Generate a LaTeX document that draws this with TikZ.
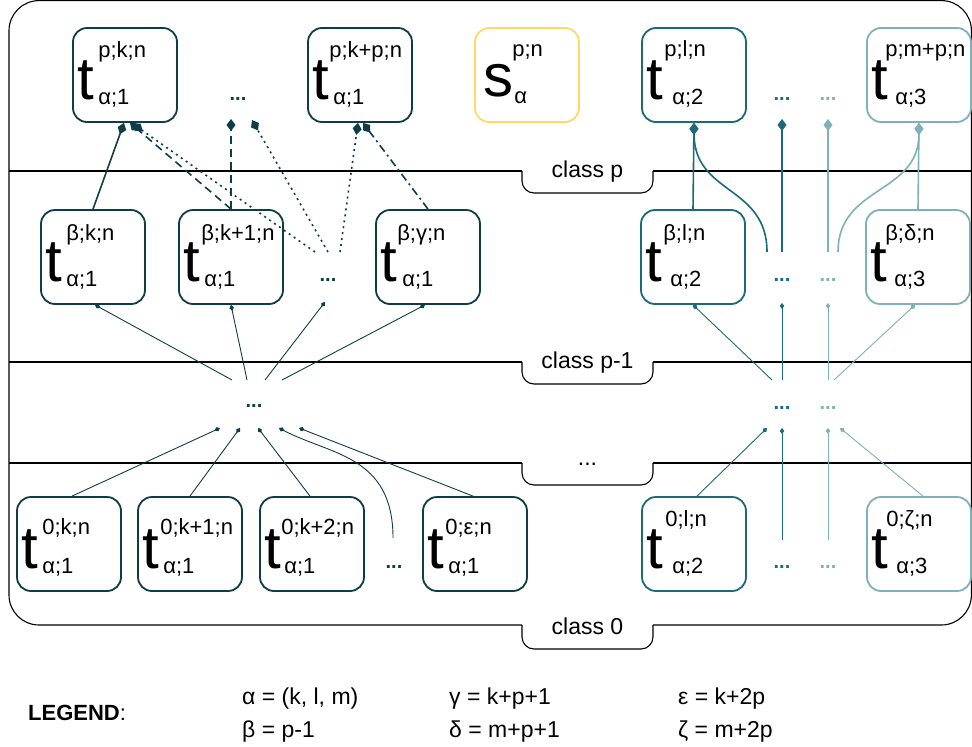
\documentclass[tikz,border=0pt]{standalone}
\usepackage{fontspec}
\setmainfont{Liberation Sans}
\usetikzlibrary{arrows.meta}
\definecolor{cdark}{HTML}{0F3D47}
\definecolor{cmid}{HTML}{1C6978}
\definecolor{clight}{HTML}{80B0BA}
\definecolor{cyel}{HTML}{FFD966}
\tikzset{
  tbox/.style={draw, line width=1.8pt, rounded corners=14pt, minimum width=104pt, minimum height=94pt, inner sep=0pt, fill=white},
  bigt/.style={font=\fontsize{60}{60}\selectfont, inner sep=0pt, anchor=base west},
  idx/.style={font=\fontsize{22}{22}\selectfont, inner sep=0pt, anchor=base west},
  bigconn/.style={line width=1.6pt, -{Diamond[length=12pt,width=9pt]}},
  smallconn/.style={line width=0.9pt, -{Diamond[length=6pt,width=4.5pt]}},
  ellip/.style={font=\bfseries\fontsize{20}{20}\selectfont, inner sep=0pt, anchor=base},
  classlbl/.style={font=\fontsize{23}{23}\selectfont, inner sep=0pt},
  sepline/.style={line width=1.1pt},
  dashline/.style={dash pattern=on 8pt off 5pt},
  dotline/.style={dash pattern=on 2pt off 4pt},
  dashdotline/.style={dash pattern=on 8pt off 4pt on 2pt off 4pt},
  legtext/.style={font=\fontsize{23}{23}\selectfont, inner sep=0pt, anchor=base west},
}
% name, x, y, colour, sup, sub, supdx, supdy, subdx
\newcommand{\tnode}[9]{%
  \node[tbox,draw=#4] (#1) at (#2,#3) {};
  \node[bigt] (#1-t) at ([xshift=5pt,yshift=-72pt]#1.north west) {t};
  \node[idx] (#1-sup) at ([xshift=#7pt,yshift=-#8pt]#1.north west) {#5};
  \node[idx] (#1-sub) at ([xshift=#9pt,yshift=-77pt]#1.north west) {#6};
}
% name, y, text, bracket depth
\newcommand{\clslabel}[4]{%
  \fill[white] (522,#2-12) rectangle (653,#2+#4-1);
  \draw[line width=1.1pt, rounded corners=12pt] (522,#2) -- (522,#2+#4) -- (653,#2+#4) -- (653,#2);
  \node[classlbl] (#1) at (587.5,#2+1) {#3};
}
\begin{document}
\begin{tikzpicture}[x=1pt,y=-1pt]
\useasboundingbox (0,0) rectangle (972,747);
% frame and class separators
\draw[line width=1.1pt, rounded corners=30pt] (9,0.6) rectangle (971.4,625);
\draw[sepline] (9,171) -- (971.4,171);
\draw[sepline] (9,362) -- (971.4,362);
\draw[sepline] (9,463) -- (971.4,463);
\clslabel{lp}{171}{class p}{22}
\clslabel{lpm}{362}{class p-1}{22}
\clslabel{ldots}{463}{...}{22}
\clslabel{lzero}{625}{class 0}{24}

% class p
\tnode{pkn}{125}{75}{cdark}{p;k;n}{α;1}{26}{30}{26}
\tnode{pkpn}{360}{75}{cdark}{p;k+p;n}{α;1}{22}{30}{26}
\node[tbox,draw=cyel] (s) at (527,75) {};
\node[bigt] (s-s) at ([xshift=9pt,yshift=-69pt]s.north west) {s};
\node[idx] (s-sup) at ([xshift=38pt,yshift=-29pt]s.north west) {p;n};
\node[idx] (s-sub) at ([xshift=40pt,yshift=-76pt]s.north west) {α};
\tnode{pln}{694}{75}{cmid}{p;l;n}{α;2}{23}{29}{31}
\tnode{pmpn}{919}{75}{clight}{p;m+p;n}{α;3}{19}{29}{29}

% class p-1
\tnode{bkn}{93}{257}{cdark}{β;k;n}{α;1}{26}{31}{26}
\tnode{bkin}{231}{257}{cdark}{β;k+1;n}{α;1}{23}{31}{26}
\tnode{bgn}{428}{257}{cdark}{β;γ;n}{α;1}{22}{31}{27}
\tnode{bln}{693}{257}{cmid}{β;l;n}{α;2}{23}{31}{30}
\tnode{bdn}{918}{257}{clight}{β;δ;n}{α;3}{20}{31}{29}

% class 0
\tnode{zkn}{69}{544}{cdark}{0;k;n}{α;1}{26}{38}{26}
\tnode{zkin}{190}{544}{cdark}{0;k+1;n}{α;1}{23}{38}{26}
\tnode{zkiin}{312}{544}{cdark}{0;k+2;n}{α;1}{22}{38}{25}
\tnode{zen}{475}{544}{cdark}{0;ε;n}{α;1}{23}{38}{26}
\tnode{zln}{694}{544}{cmid}{0;l;n}{α;2}{24}{30}{31}
\tnode{zzn}{919}{544}{clight}{0;ζ;n}{α;3}{20}{30}{30}

% ellipses
\node[ellip,text=cdark] (e1) at (238,100.5) {...};
\node[ellip,text=cmid] (e2) at (782,100.5) {...};
\node[ellip,text=clight] (e3) at (828,100.5) {...};
\node[ellip,text=cdark] (e4) at (328,281.5) {...};
\node[ellip,text=cmid] (e5) at (782,281.5) {...};
\node[ellip,text=clight] (e6) at (828,281.5) {...};
\node[ellip,text=cdark] (e7) at (254,407.5) {...};
\node[ellip,text=cmid] (e8) at (782,409.5) {...};
\node[ellip,text=clight] (e9) at (828,409.5) {...};
\node[ellip,text=cdark] (e10) at (394,568.5) {...};
\node[ellip,text=cmid] (e11) at (782,568.5) {...};
\node[ellip,text=clight] (e12) at (828,568.5) {...};

% free ends
\coordinate (fa) at (231,119);
\coordinate (fb) at (252,120);
\coordinate (d1) at (315,252);
\coordinate (d2) at (328,252);
\coordinate (d3) at (340,252);
\coordinate (rm1) at (767,252);
\coordinate (rm2) at (782,252);
\coordinate (rm3) at (782,119);
\coordinate (rl1) at (828,252);
\coordinate (rl2) at (828,119);
\coordinate (rl3) at (838,252);

% class p-1 -> class p, left group
\draw[bigconn,cdark] (bkn.north) -- ([xshift=-1pt]pkn.south);
\draw[bigconn,cdark,dashline] (bkin.north) -- ([xshift=5pt]pkn.south);
\draw[bigconn,cdark,dashline] (bkin.north) -- (fa);
\draw[bigconn,cdark,dotline] (d1) -- ([xshift=8pt,yshift=-1pt]pkn.south);
\draw[bigconn,cdark,dotline] (d2) -- (fb);
\draw[bigconn,cdark,dotline] (d3) -- ([xshift=-2pt]pkpn.south);
\draw[bigconn,cdark,dashdotline] (bgn.north) -- ([xshift=3pt]pkpn.south);

% class p-1 -> class p, right groups
\draw[bigconn,cmid] (bln.north) -- (pln.south);
\draw[bigconn,cmid] (rm1) .. controls (767,185) and (694,195) .. (pln.south);
\draw[bigconn,cmid] (rm2) -- (rm3);
\draw[bigconn,clight] (rl1) -- (rl2);
\draw[bigconn,clight] (rl3) .. controls (838,185) and (919,195) .. (pmpn.south);
\draw[bigconn,clight] (bdn.north) -- (pmpn.south);

% between class p-1 and "..."
\coordinate (m1) at (232,380);
\coordinate (m2) at (247,380);
\coordinate (m3) at (265,380);
\coordinate (m4) at (282,380);
\coordinate (mf) at (325,302);
\draw[smallconn,cdark] (m1) -- ([xshift=2pt]bkn.south);
\draw[smallconn,cdark] (m2) -- (bkin.south);
\draw[smallconn,cdark] (m3) -- (mf);
\draw[smallconn,cdark] (m4) -- ([xshift=-3pt]bgn.south);

\coordinate (n1) at (772,380);
\coordinate (n2) at (782,380);
\coordinate (n3) at (782,303);
\coordinate (n4) at (828,380);
\coordinate (n5) at (828,303);
\coordinate (n6) at (834,380);
\draw[smallconn,cmid] (n1) -- (bln.south);
\draw[smallconn,cmid] (n2) -- (n3);
\draw[smallconn,clight] (n4) -- (n5);
\draw[smallconn,clight] (n6) -- ([xshift=-3pt]bdn.south);

% class 0 -> "..."
\coordinate (q1) at (220,428);
\coordinate (q2) at (240,428);
\coordinate (q3) at (258,428);
\coordinate (q4) at (279,428);
\coordinate (q5) at (299,428);
\coordinate (qc) at (393,538);
\draw[smallconn,cdark] ([xshift=3pt]zkn.north) -- (q1);
\draw[smallconn,cdark] (zkin.north) -- (q2);
\draw[smallconn,cdark] ([xshift=-2pt]zkiin.north) -- (q3);
\draw[smallconn,cdark] (qc) .. controls (393,455) and (330,455) .. (q4);
\draw[smallconn,cdark] ([xshift=-2pt]zen.north) -- (q5);

\coordinate (r1) at (767,428);
\coordinate (r2) at (782,540);
\coordinate (r3) at (782,428);
\coordinate (r4) at (828,540);
\coordinate (r5) at (828,428);
\coordinate (r6) at (840,428);
\draw[smallconn,cmid] ([xshift=3pt]zln.north) -- (r1);
\draw[smallconn,cmid] (r2) -- (r3);
\draw[smallconn,clight] (r4) -- (r5);
\draw[smallconn,clight] ([xshift=4pt]zzn.north) -- (r6);

% legend
\node[font=\fontsize{22}{22}\selectfont, inner sep=0pt, anchor=west] (leg) at (28,713) {\textbf{LEGEND}:};
\node[legtext] (la) at (242,704) {α = (k, l, m)};
\node[legtext] (lb) at (242,737) {β = p-1};
\node[legtext] (lg) at (449,704) {γ = k+p+1};
\node[legtext] (ld) at (449,737) {δ = m+p+1};
\node[legtext] (le) at (678,704) {ε = k+2p};
\node[legtext] (lz) at (678,737) {ζ = m+2p};
\end{tikzpicture}
\end{document}
